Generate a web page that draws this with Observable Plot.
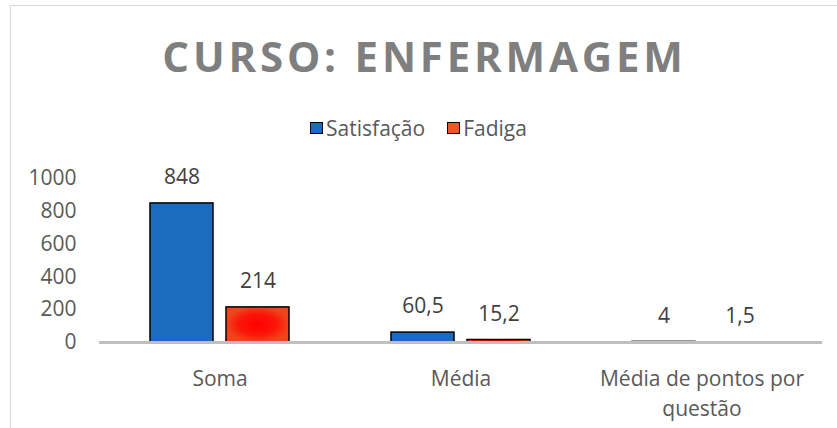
<!DOCTYPE html>
<html><head><meta charset="utf-8">
<script src="https://cdn.jsdelivr.net/npm/d3@7"></script>
<script src="https://cdn.jsdelivr.net/npm/@observablehq/plot@0.6"></script>
<style>
body{margin:0;background:#fff;font-family:"Open Sans",sans-serif;}
#wrap{position:relative;width:837px;height:428px;overflow:hidden;background:#fff;}
#frame{position:absolute;left:10px;top:5px;width:900px;height:500px;border-left:1px solid #d9d9d9;border-top:1px solid #d9d9d9;}
#title{position:absolute;left:6px;width:837px;top:35px;line-height:42px;text-align:center;font-weight:700;font-size:42px;letter-spacing:3.8px;color:#7f7f7f;white-space:nowrap;}
#legend{position:absolute;left:0;width:837px;top:114px;height:28px;display:flex;justify-content:center;align-items:center;font-size:21px;color:#595959;}
.item{display:flex;align-items:center;margin:0 11px;}
.sw{width:11px;height:10px;border:1.5px solid #000;margin-right:3px;}
#chart{position:absolute;left:0;top:160px;}
</style></head>
<body>
<div id="wrap">
<div id="frame"></div>
<div id="title">CURSO: ENFERMAGEM</div>
<div id="legend"></div>
<div id="chart"></div>
</div>
<script>
const categories = ["Soma", "Média", "Média de pontos por questão"];
const categoryLabels = ["Soma", "Média", "Média de pontos por\nquestão"];
const series = ["Satisfação", "Fadiga"];
const satisfacao = [848, 60.5, 4];
const fadiga = [214, 15.2, 1.5];
const yTicks = [0, 200, 400, 600, 800, 1000];
const colors = ["#1b6bc0", "url(#redGrad)"];
const legendColors = ["#1b6bc0", "#ef5626"];

const rows = [];
categories.forEach((c, i) => {
  rows.push({cat: c, series: series[0], value: satisfacao[i]});
  rows.push({cat: c, series: series[1], value: fadiga[i]});
});
const fmt = v => String(v).replace(".", ",");

const leg = document.getElementById("legend");
series.forEach((s, i) => {
  const it = document.createElement("div"); it.className = "item";
  const sw = document.createElement("div"); sw.className = "sw"; sw.style.background = legendColors[i];
  const tx = document.createElement("span"); tx.textContent = s;
  it.appendChild(sw); it.appendChild(tx); leg.appendChild(it);
});

const svg = Plot.plot({
  width: 837, height: 268,
  marginTop: 18, marginBottom: 86, marginLeft: 99, marginRight: 15,
  style: {fontFamily: "Open Sans", fontSize: "21px", color: "#595959", background: "transparent", overflow: "visible"},
  fx: {domain: categories, padding: 0, axis: null},
  x: {domain: series, paddingInner: 0.171, paddingOuter: 0.671, axis: null},
  y: {domain: [0, 1000], ticks: yTicks, tickSize: 0, tickPadding: 23, label: null, tickFormat: d => String(d)},
  color: {domain: series, range: colors},
  marks: [
    Plot.barY(rows, {fx: "cat", x: "series", y: "value", fill: "series", stroke: "#000", strokeWidth: 1.5}),
    Plot.ruleY([0], {stroke: "#bfbfbf", strokeWidth: 3}),
    Plot.text(rows, {fx: "cat", x: "series", y: "value", text: d => fmt(d.value), dy: -26, lineAnchor: "middle", fill: "#404040"}),
    Plot.text(categories, {fx: d => d, text: (d, i) => categoryLabels[i], frameAnchor: "bottom", lineAnchor: "top", dy: 22, lineHeight: 1.43, fill: "#595959"})
  ]
});
const defs = d3.select(svg).insert("defs", ":first-child");
const g = defs.append("radialGradient").attr("id", "redGrad");
g.append("stop").attr("offset", "0%").attr("stop-color", "#ff0000");
g.append("stop").attr("offset", "60%").attr("stop-color", "#fb1608");
g.append("stop").attr("offset", "100%").attr("stop-color", "#f0441c");
document.getElementById("chart").appendChild(svg);
</script>
</body></html>
